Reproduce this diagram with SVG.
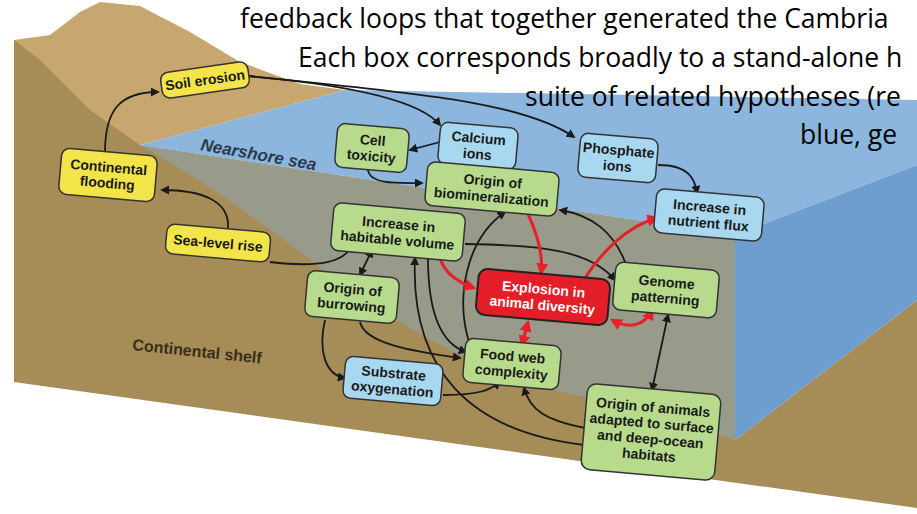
<svg xmlns="http://www.w3.org/2000/svg" width="917" height="514" viewBox="0 0 917 514">
<style>
.nb{stroke:#333;stroke-width:1.5}
.y{fill:#f3e44a}.g{fill:#b7da8c}.b{fill:#a8d8ef}.r{fill:#e41e28}
.t{font-family:"Liberation Sans",Arial,sans-serif;font-weight:bold;font-size:14px;fill:#1a1a1a;text-anchor:middle}
.w{fill:#fff}
.c{fill:none;stroke:#1a1a1a;stroke-width:1.8}
.rc{fill:none;stroke:#e8202a;stroke-width:3}
.h{font-family:"Open Sans",sans-serif;font-size:26.5px;fill:#000}
</style>
<defs>
<marker id="a" viewBox="0 0 10 10" refX="8" refY="5" markerWidth="5" markerHeight="5" orient="auto-start-reverse"><path d="M0,0L10,5L0,10z" fill="#1a1a1a"/></marker>
<marker id="ar" viewBox="0 0 10 10" refX="8" refY="5" markerWidth="4" markerHeight="4" orient="auto-start-reverse"><path d="M0,0L10,5L0,10z" fill="#e8202a"/></marker>
</defs>
<rect width="917" height="514" fill="#fff"/>
<g id="scene">
<path d="M14,40 L14,382 L917,508 L917,300 L735,440 L735,235 L140,145 L60,50z" fill="#a68c57"/>
<path d="M14,40 L50,35 L80,12 L100,2 L140,6 L190,32 L240,62 L300,84 L345,90 L140,145 L90,110 L40,60z" fill="#c8a670"/>
<path d="M140,145 L345,90 L917,100 L917,165 L735,235z" fill="#8cb6dd"/>
<path d="M140,145 L735,235 L735,440 L600,400 C480,380 420,330 360,300 C300,250 220,190 140,145z" fill="#8aa7bd" opacity="0.5"/>
<path d="M735,235 L917,165 L917,300 L735,440z" fill="#6e9dcf"/>
<text x="200" y="150" transform="rotate(10 200 150)" style="font-family:'Liberation Sans',Arial,sans-serif;font-weight:bold;font-style:italic;font-size:17px;fill:#2d3a4c">Nearshore sea</text>
<text x="132" y="350" transform="rotate(6 132 350)" style="font-family:'Liberation Sans',Arial,sans-serif;font-weight:bold;font-size:16px;fill:#3a2e1a">Continental shelf</text>
</g>
<g id="title">
<text class="h" x="240" y="28">feedback loops that together generated the Cambria</text>
<text class="h" x="298" y="67">Each box corresponds broadly to a stand-alone h</text>
<text class="h" x="525" y="106">suite of related hypotheses (re</text>
<text class="h" x="800" y="144">blue, ge</text>
</g>
<g id="connectors">
<path class="c" marker-end="url(#a)" d="M228,228 C230,200 200,190 162,190"/>
<path class="c" marker-end="url(#a)" d="M105,152 C105,110 120,92 158,92"/>
<path class="c" marker-end="url(#a)" d="M248,76 C350,85 420,100 440,125"/>
<path class="c" marker-end="url(#a)" d="M248,76 C400,92 520,100 574,137"/>
<path class="c" marker-end="url(#a)" d="M440,142 L410,150"/>
<path class="c" marker-end="url(#a)" d="M368,170 C370,185 400,183 422,183"/>
<path class="c" marker-end="url(#a)" d="M658,165 C690,165 695,180 697,193"/>
<path class="c" marker-end="url(#a)" d="M270,262 C320,268 345,262 352,245"/>
<path class="c" marker-end="url(#a)" d="M628,270 C615,230 590,215 560,210"/>
<path class="c" marker-end="url(#a)" d="M465,244 C540,245 590,250 615,280"/>
<path class="c" marker-start="url(#a)" marker-end="url(#a)" d="M372,250 L360,275"/>
<path class="c" marker-end="url(#a)" d="M325,320 C318,350 325,375 345,378"/>
<path class="c" marker-end="url(#a)" d="M360,322 C365,345 420,352 460,358"/>
<path class="c" marker-end="url(#a)" d="M443,395 C480,395 490,390 500,382"/>
<path class="c" marker-end="url(#a)" d="M585,428 C545,420 530,410 524,388"/>
<path class="c" marker-end="url(#a)" d="M585,445 C470,432 410,370 415,258"/>
<path class="c" marker-end="url(#a)" d="M428,258 C428,320 445,345 466,352"/>
<path class="c" marker-end="url(#a)" d="M470,345 C455,300 465,240 505,212"/>
<path class="c" marker-start="url(#a)" marker-end="url(#a)" d="M652,390 L668,315"/>
<path class="rc" marker-end="url(#ar)" d="M528,214 C540,240 543,258 541,273"/>
<path class="rc" marker-end="url(#ar)" d="M440,258 C445,275 460,283 474,288"/>
<path class="rc" marker-start="url(#ar)" marker-end="url(#ar)" d="M578,290 C600,250 630,225 657,218"/>
<path class="rc" marker-start="url(#ar)" marker-end="url(#ar)" d="M528,322 L522,345"/>
<path class="rc" marker-start="url(#ar)" marker-end="url(#ar)" d="M612,320 C630,330 645,325 652,310"/>
</g>
<g id="soil-erosion" transform="translate(205,80) rotate(-8)"><rect class="nb y" x="-44" y="-13" width="88" height="26" rx="8"/><text class="t" y="5">Soil erosion</text></g>
<g id="continental-flooding" transform="translate(108,175) rotate(5)"><rect class="nb y" x="-48" y="-23" width="96" height="46" rx="8"/><text class="t" y="-3">Continental</text><text class="t" y="13">flooding</text></g>
<g id="sea-level-rise" transform="translate(218,243) rotate(5)"><rect class="nb y" x="-52" y="-15" width="104" height="30" rx="8"/><text class="t" y="5">Sea-level rise</text></g>
<g id="cell-toxicity" transform="translate(372,148) rotate(5)"><rect class="nb g" x="-36" y="-22" width="72" height="44" rx="8"/><text class="t" y="-3">Cell</text><text class="t" y="13">toxicity</text></g>
<g id="calcium-ions" transform="translate(478,146) rotate(5)"><rect class="nb b" x="-39" y="-21" width="78" height="42" rx="8"/><text class="t" y="-3">Calcium</text><text class="t" y="13">ions</text></g>
<g id="phosphate-ions" transform="translate(618,158) rotate(5)"><rect class="nb b" x="-39" y="-22" width="78" height="44" rx="8"/><text class="t" y="-3">Phosphate</text><text class="t" y="13">ions</text></g>
<g id="biomineralization" transform="translate(492,189) rotate(5)"><rect class="nb g" x="-66" y="-22" width="132" height="44" rx="8"/><text class="t" y="-3">Origin of</text><text class="t" y="13">biomineralization</text></g>
<g id="nutrient-flux" transform="translate(709,215) rotate(5)"><rect class="nb b" x="-54" y="-22" width="108" height="44" rx="8"/><text class="t" y="-3">Increase in</text><text class="t" y="13">nutrient flux</text></g>
<g id="habitable-volume" transform="translate(398,232) rotate(5)"><rect class="nb g" x="-66" y="-24" width="132" height="48" rx="8"/><text class="t" y="-3">Increase in</text><text class="t" y="13">habitable volume</text></g>
<g id="explosion" transform="translate(543,297) rotate(5)"><rect x="-66" y="-23" width="132" height="46" rx="9" class="r" stroke="#222" stroke-width="2"/><text class="t w" y="-3">Explosion in</text><text class="t w" y="13">animal diversity</text></g>
<g id="genome-patterning" transform="translate(666,290) rotate(5)"><rect class="nb g" x="-52" y="-24" width="104" height="48" rx="8"/><text class="t" y="-3">Genome</text><text class="t" y="13">patterning</text></g>
<g id="origin-burrowing" transform="translate(352,297) rotate(5)"><rect class="nb g" x="-46" y="-23" width="92" height="46" rx="8"/><text class="t" y="-3">Origin of</text><text class="t" y="13">burrowing</text></g>
<g id="food-web" transform="translate(512,364) rotate(5)"><rect class="nb g" x="-48" y="-22" width="96" height="44" rx="8"/><text class="t" y="-3">Food web</text><text class="t" y="13">complexity</text></g>
<g id="substrate" transform="translate(393,381) rotate(5)"><rect class="nb b" x="-49" y="-21" width="98" height="42" rx="8"/><text class="t" y="-3">Substrate</text><text class="t" y="13">oxygenation</text></g>
<g id="origin-animals" transform="translate(651,432) rotate(5)"><rect class="nb g" x="-67" y="-43" width="134" height="86" rx="9"/><text class="t" y="-20">Origin of animals</text><text class="t" y="-4">adapted to surface</text><text class="t" y="12">and deep-ocean</text><text class="t" y="28">habitats</text></g>
</svg>
